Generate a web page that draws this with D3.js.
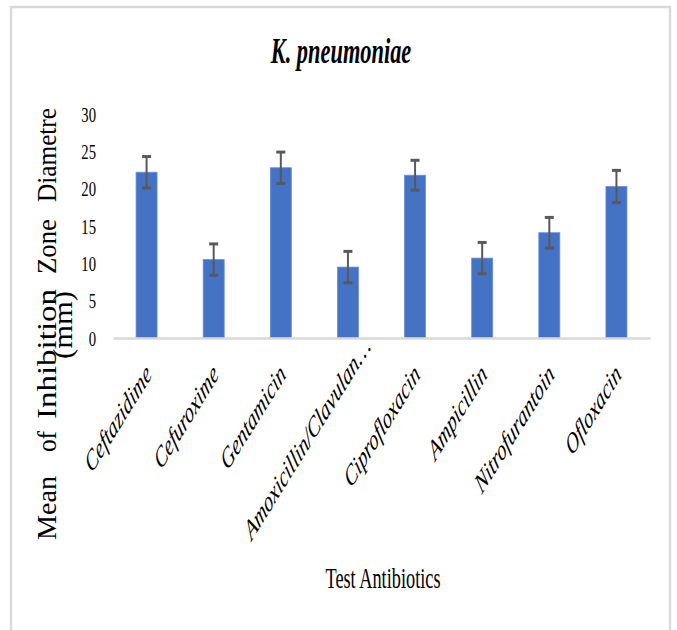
<!DOCTYPE html>
<html>
<head>
<meta charset="utf-8">
<script src="https://cdn.jsdelivr.net/npm/d3@7"></script>
<style>
  html, body { margin: 0; padding: 0; background: #ffffff; }
  svg { display: block; }
</style>
</head>
<body>
<script>
const title = "K. pneumoniae";
const xTitle = "Test Antibiotics";
const yTitleLines = ["Mean of Inhibition Zone Diametre", "(mm)"];
const categories = ["Ceftazidime", "Cefuroxime", "Gentamicin", "Amoxicillin/Clavulan\u2026",
  "Ciprofloxacin", "Ampicillin", "Nitrofurantoin", "Ofloxacin"];
const means = [22.2, 10.5, 22.8, 9.5, 21.8, 10.7, 14.1, 20.3];
const errors = [2.1, 2.1, 2.1, 2.1, 2.0, 2.1, 2.05, 2.15];
const yTicks = [0, 5, 10, 15, 20, 25, 30];

const W = 677, H = 630;
const serif = "'Liberation Serif', 'Times New Roman', serif";
const SX = 0.62; // horizontal squeeze of the original picture

const svg = d3.select("body").append("svg").attr("width", W).attr("height", H);

// frame
svg.append("rect").attr("x", 11).attr("y", 7).attr("width", 659).attr("height", 650)
  .attr("fill", "#fff").attr("stroke", "#d9d9d9").attr("stroke-width", 2.5);

const x = d3.scaleBand().domain(categories).range([113, 650]).paddingInner(0.687).paddingOuter(0.3435);
const y = d3.scaleLinear().domain([0, 30]).range([338, 114]);

// title
svg.append("text")
  .attr("transform", `translate(341,63) scale(0.64,1)`)
  .attr("text-anchor", "middle")
  .attr("font-family", serif).attr("font-size", 35).attr("font-weight", "bold").attr("font-style", "italic")
  .attr("fill", "#000").text(title);

// bars
const g = svg.append("g");
g.selectAll("rect.bar").data(categories).join("rect").attr("class", "bar")
  .attr("x", d => x(d)).attr("width", x.bandwidth())
  .attr("y", (d, i) => y(means[i])).attr("height", (d, i) => y(0) - y(means[i]))
  .attr("fill", "#4472c4").attr("stroke", "#6a8fd4").attr("stroke-width", 0.8);

// x axis line
const xAxis = svg.append("g").attr("transform", `translate(0,${y(0)})`)
  .call(d3.axisBottom(x).tickSize(0).tickFormat(""));
xAxis.select(".domain").attr("stroke", "#d9d9d9").attr("stroke-width", 2.5);

// error bars
const eb = svg.append("g").attr("stroke", "#595959").attr("fill", "none");
categories.forEach((c, i) => {
  const cx = x(c) + x.bandwidth() / 2;
  const top = y(means[i] + errors[i]), bot = y(means[i] - errors[i]);
  eb.append("line").attr("x1", cx).attr("x2", cx).attr("y1", top).attr("y2", bot).attr("stroke-width", 2);
  eb.append("line").attr("x1", cx - 4.5).attr("x2", cx + 4.5).attr("y1", top).attr("y2", top).attr("stroke-width", 3);
  eb.append("line").attr("x1", cx - 4.5).attr("x2", cx + 4.5).attr("y1", bot).attr("y2", bot).attr("stroke-width", 3);
});

// y axis tick labels
const yAxis = svg.append("g").attr("transform", `translate(96,0)`)
  .call(d3.axisLeft(y).tickValues(yTicks).tickSize(0).tickPadding(0).tickFormat(d3.format("d")));
yAxis.select(".domain").remove();
yAxis.selectAll(".tick text")
  .attr("font-family", serif).attr("font-size", 21).attr("fill", "#000")
  .attr("text-anchor", "end").attr("x", 0).attr("dy", "0.34em")
  .attr("transform", `scale(0.7,1)`);

// x category labels
svg.append("g").selectAll("text.cat").data(categories).join("text").attr("class", "cat")
  .attr("transform", d => `translate(${x(d) + x.bandwidth() / 2 + 6},376) scale(${SX},1) rotate(-45)`)
  .attr("x", d => d.endsWith("\u2026") ? 40 : 0)
  .attr("text-anchor", "end")
  .attr("font-family", serif).attr("font-size", 29).attr("font-style", "italic")
  .attr("fill", "#000").text(d => d);

// x title
svg.append("text")
  .attr("transform", `translate(383,588) scale(0.61,1)`)
  .attr("text-anchor", "middle")
  .attr("font-family", serif).attr("font-size", 30).attr("fill", "#000").text(xTitle);

// y title (two lines); words laid out along the rotated line like the justified original
const yWordStarts = [540, 452, 419, 274, 202]; // screen y where each word begins (bottom)
const yWordLens = [64, 21, 130, 55, 94];
const yt = svg.append("text")
  .attr("transform", `translate(56,0) rotate(-90)`)
  .attr("font-family", serif).attr("font-size", 28).attr("fill", "#000");
yTitleLines[0].split(" ").forEach((w, i) => {
  yt.append("tspan").attr("x", -yWordStarts[i]).attr("y", 0)
    .attr("textLength", yWordLens[i]).attr("lengthAdjust", "spacingAndGlyphs").text(w);
});
svg.append("text")
  .attr("transform", `translate(72,325) rotate(-90)`)
  .attr("text-anchor", "middle")
  .attr("font-family", serif).attr("font-size", 27).attr("fill", "#000")
  .attr("textLength", 68).attr("lengthAdjust", "spacingAndGlyphs")
  .text(yTitleLines[1]);
</script>
</body>
</html>
